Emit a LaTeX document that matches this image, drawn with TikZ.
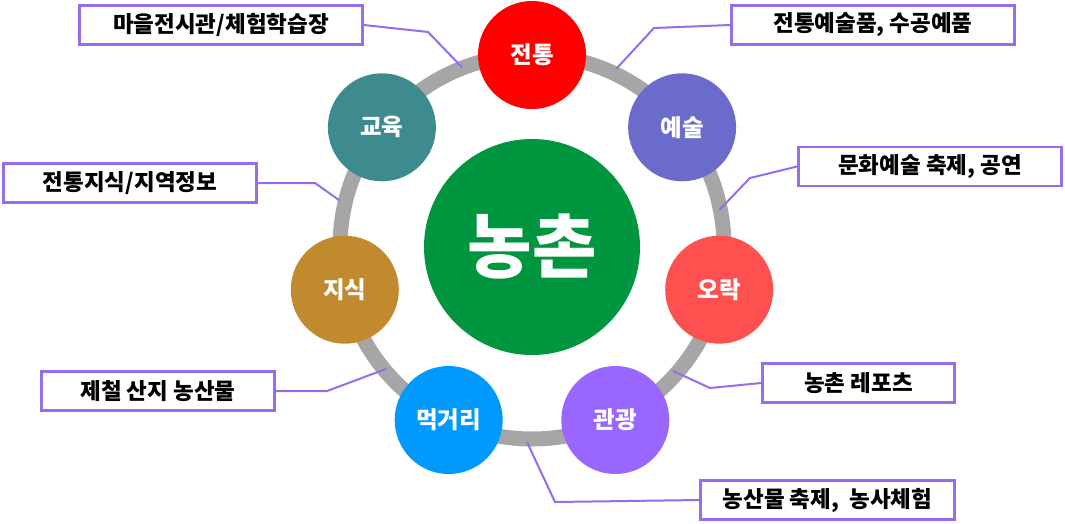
\documentclass[tikz,border=0pt]{standalone}
\usepackage{fontspec}
\usepackage{tikz}
\usetikzlibrary{positioning}
\newfontfamily\kr{Noto Sans CJK KR}

\definecolor{ringgray}{RGB}{166,166,166}
\definecolor{hubgreen}{RGB}{0,150,64}
\definecolor{boxpurple}{RGB}{150,108,238}
\definecolor{cTrad}{RGB}{255,0,0}
\definecolor{cArt}{RGB}{107,107,203}
\definecolor{cFun}{RGB}{255,80,80}
\definecolor{cTour}{RGB}{153,102,255}
\definecolor{cFood}{RGB}{0,153,255}
\definecolor{cKnow}{RGB}{194,138,46}
\definecolor{cEdu}{RGB}{61,138,143}

\begin{document}
\begin{tikzpicture}[x=1pt, y=-1pt,
    sat/.style={circle, minimum size=108pt, inner sep=0pt, text=white,
                font=\kr\bfseries\fontsize{23.5}{27}\selectfont},
    tag/.style={draw=boxpurple, line width=2.8pt, fill=white, inner sep=0pt,
                minimum height=39pt, font=\kr\bfseries\fontsize{22.5}{26}\selectfont},
    lead/.style={draw=boxpurple, line width=2pt}]
                \useasboundingbox (0,0) rectangle (1065,523);
                
                % ring and centre
                \draw[ringgray, line width=15pt] (532,247) circle (192pt);
                \node[circle, fill=hubgreen, minimum size=216pt, inner sep=0pt, text=white,
                      font=\kr\bfseries\fontsize{70}{74}\selectfont] (hub) at (532,247) {농촌};
                
                % seven themes on the ring
                \node[sat, fill=cTrad] (trad) at (532,55) {전통};
                \node[sat, fill=cArt]  (art)  at (682.1,127.3) {예술};
                \node[sat, fill=cFun]  (fun)  at (719.2,289.7) {오락};
                \node[sat, fill=cTour] (tour) at (615.3,420) {관광};
                \node[sat, fill=cFood] (food) at (448.7,420) {먹거리};
                \node[sat, fill=cKnow] (know) at (344.8,289.7) {지식};
                \node[sat, fill=cEdu]  (edu)  at (381.9,127.3) {교육};
                
                % label boxes
                \node[tag, minimum width=283pt] (b1) at (221,25) {마을전시관/체험학습장};
                \node[tag, minimum width=253pt] (b2) at (130,183) {전통지식/지역정보};
                \node[tag, minimum width=283pt] (b3) at (873,25) {전통예술품, 수공예품};
                \node[tag, minimum width=263pt] (b4) at (930,166.5) {문화예술 축제, 공연};
                \node[tag, minimum width=233pt] (b5) at (158,391) {제철 산지 농산물};
                \node[tag, minimum width=192pt] (b6) at (858.5,383) {농촌 레포츠};
                \node[tag, minimum width=254pt] (b7) at (827.5,500) {농산물 축제,\ \ 농사체험};
                
                % ends of the leaders on the ring
                \path (hub.center) ++(111.3:193pt) coordinate (e1);
                \path (hub.center) ++(166.4:198pt) coordinate (e2);
                \path (hub.center) ++(64.7:197pt) coordinate (e3);
                \path (hub.center) ++(11.2:191pt) coordinate (e4);
                \path (hub.center) ++(219.9:190pt) coordinate (e5);
                \path (hub.center) ++(-41.3:188pt) coordinate (e6);
                \path (hub.center) ++(-91.5:195pt) coordinate (e7);
                
                \draw[lead] (b1.east) -- (428,32) -- (e1);
                \draw[lead] (b2.east) -- (315,183) -- (e2);
                \draw[lead] (b3.west) -- (654,28) -- (e3);
                \draw[lead] (b4.west) -- (750,178) -- (e4);
                \draw[lead] (b5.east) -- (327,391) -- (e5);
                \draw[lead] (b6.west) -- (710,388) -- (e6);
                \draw[lead] (b7.west) -- (555,502) -- (e7);
            \end{tikzpicture}
\end{document}
